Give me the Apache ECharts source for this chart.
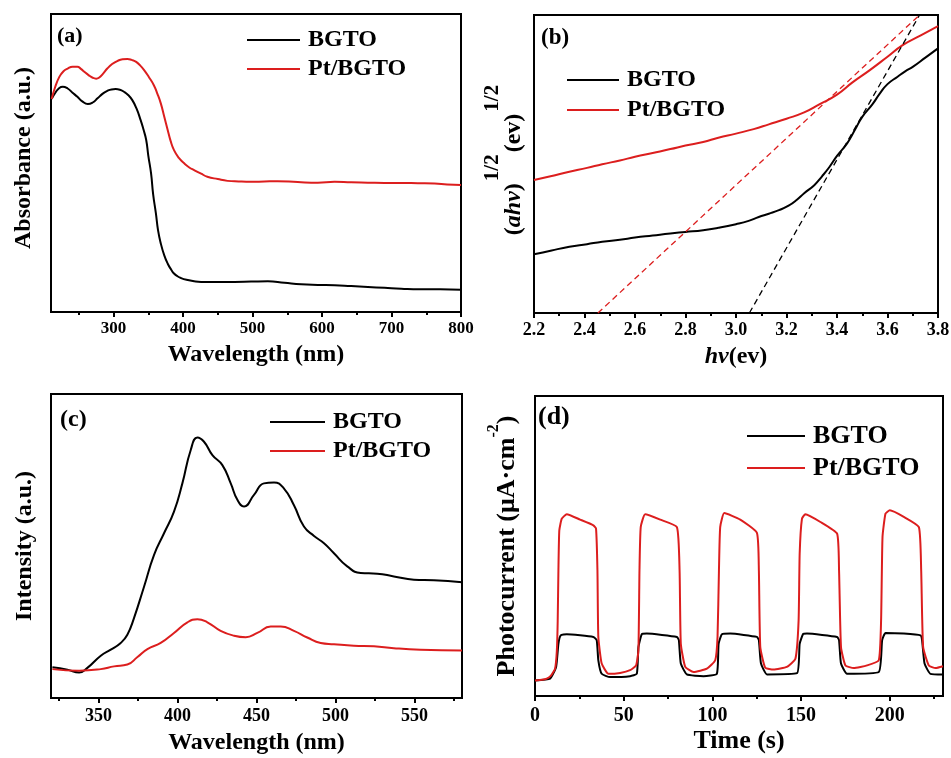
<!DOCTYPE html>
<html>
<head>
<meta charset="utf-8">
<script src="https://cdn.jsdelivr.net/npm/echarts@6/dist/echarts.min.js"></script>
<style>
  html, body { margin: 0; padding: 0; background: #fff; }
  #chart { width: 951px; height: 758px; }
</style>
</head>
<body>
<div id="chart"></div>
<script>
// (a) UV-vis absorbance, [wavelength nm, a.u.]
const absBGTO = [[211,71.5],[216,73.5],[222,75.2],[227,75.6],[234,75.0],[241,73.6],[248,72.2],[255,70.7],[263,69.8],[270,70.3],[277,71.7],[284,73.2],[291,74.2],[297,74.7],[303,74.8],[309,74.6],[315,73.9],[321,72.8],[327,71.1],[333,68.3],[339,64.4],[343,61.3],[347,57.7],[350,52.5],[354,46.5],[357,39.5],[361,33.0],[364,27.5],[368,23.0],[373,19.0],[378,16.2],[383,14.2],[387,12.9],[392,12.0],[397,11.4],[405,10.8],[416,10.3],[426,10.1],[450,10.1],[474,10.1],[498,10.2],[522,10.3],[546,9.8],[570,9.3],[594,9.1],[618,9.0],[642,8.7],[666,8.4],[690,8.1],[714,7.8],[740,7.6],[770,7.6],[800,7.5]];
const absPt = [[211,71.5],[216,75.5],[222,78.9],[228,80.8],[234,81.7],[241,82.3],[248,82.3],[253,81.6],[258,80.6],[264,79.5],[270,78.6],[275,78.3],[279,78.6],[285,80.0],[291,81.7],[298,83.2],[306,84.3],[313,84.8],[320,84.9],[326,84.6],[332,84.0],[338,82.8],[344,81.2],[351,78.8],[358,76.1],[363,73.3],[368,70.0],[373,65.5],[378,61.0],[382,57.5],[387,54.3],[394,51.7],[402,49.8],[409,48.5],[416,47.6],[426,46.4],[435,45.4],[450,44.6],[464,44.0],[480,43.8],[498,43.7],[517,43.8],[536,43.9],[565,43.6],[594,43.4],[618,43.7],[642,43.5],[666,43.4],[690,43.3],[714,43.3],[738,43.2],[762,43.1],[780,42.8],[800,42.6]];
const absMajor = [300, 400, 500, 600, 700, 800];
const absMinor = [250, 350, 450, 550, 650, 750];

// (b) Tauc plot, [hv eV, (ahv)^1/2]
const taucBGTO = [[2.2,19.7],[2.27,21.0],[2.34,22.2],[2.41,23.1],[2.47,23.9],[2.54,24.6],[2.6,25.3],[2.67,26.0],[2.74,26.7],[2.8,27.2],[2.87,27.8],[2.93,28.6],[3.0,29.8],[3.05,30.9],[3.09,32.2],[3.13,33.3],[3.17,34.5],[3.21,36.1],[3.24,37.9],[3.27,40.2],[3.31,42.9],[3.34,45.8],[3.37,49.0],[3.40,52.7],[3.44,56.9],[3.47,61.3],[3.50,65.8],[3.54,70.0],[3.57,73.7],[3.60,76.8],[3.64,79.3],[3.67,81.1],[3.70,82.6],[3.75,85.7],[3.8,88.8]];
const taucPt = [[2.2,44.6],[2.27,46.0],[2.34,47.4],[2.41,48.7],[2.47,49.9],[2.54,51.2],[2.6,52.4],[2.67,53.7],[2.74,55.0],[2.8,56.2],[2.87,57.4],[2.93,58.8],[3.0,60.2],[3.07,61.7],[3.13,63.3],[3.2,65.2],[3.27,67.3],[3.33,70.0],[3.40,73.3],[3.46,77.3],[3.53,81.5],[3.6,86.0],[3.66,89.9],[3.73,93.1],[3.8,96.3]];
const taucFitBGTO = [[3.053,0],[3.727,100]];
const taucFitPt = [[2.453,0],[3.727,100]];
const taucMajor = [2.2, 2.4, 2.6, 2.8, 3.0, 3.2, 3.4, 3.6, 3.8];
const taucMinor = [2.3, 2.5, 2.7, 2.9, 3.1, 3.3, 3.5, 3.7];

// (c) PL spectra, [wavelength nm, a.u.]
const plBGTO = [[320.9,10.1],[330.4,9.3],[337.8,8.4],[343,9.9],[351.5,13.9],[357.8,15.9],[364.1,18.1],[368.3,20.8],[372.5,26.3],[378.9,36.7],[385.2,47.1],[391.5,54.2],[397.8,61.3],[403.1,70.6],[408.4,81.6],[412.6,85.7],[416.8,84.3],[422.1,79.9],[428.4,76.6],[433.7,70.6],[437.9,65.2],[442.1,63.0],[448.4,66.8],[454.7,70.6],[461.1,70.9],[467.4,68.9],[473.7,63.4],[480,56.4],[486.4,53.3],[492.7,50.9],[499,47.6],[507.4,43.3],[515.9,41.1],[526.4,40.9],[536.9,40.0],[549.6,38.9],[562.2,38.7],[580,38.1]];
const plPt = [[320.9,9.5],[337.8,9.0],[351.5,9.5],[359.9,10.4],[368.3,11.0],[374.7,13.5],[381,16.1],[389.4,18.1],[397.8,21.4],[406.3,24.9],[412.6,25.9],[418.9,24.9],[427.3,22.1],[435.8,20.5],[443.2,20.0],[450.5,21.4],[459,23.5],[465.3,23.5],[473.7,22.1],[482.1,19.9],[490.6,18.1],[499,17.7],[511.6,17.2],[524.3,17.0],[536.9,16.4],[553.8,15.9],[580,15.6]];
const plMajor = [350, 400, 450, 500, 550];
const plMinor = [325, 375, 425, 475, 525, 575];

// (d) transient photocurrent, [time s, a.u.]
const ptBGTO = [[0,5.2],[8.5,5.8],[11.9,9.7],[13.2,17.4],[14.5,20.2],[17.9,20.6],[32.9,19.7],[34.8,18.6],[35.7,11.9],[37.6,7.4],[42.3,6.3],[53.6,6.6],[57.4,7.4],[58.3,16.3],[60.2,20.6],[63,20.8],[80,19.7],[81.1,18.6],[82.2,10.8],[85.6,7.2],[95,6.6],[102.5,7.4],[103.5,17.4],[105.4,20.6],[110.1,20.8],[125.1,19.7],[126.2,18.6],[127.4,10.8],[130.8,7.2],[147.7,7.6],[149.2,17.4],[151.1,20.6],[153.3,20.8],[170.3,19.7],[171.4,18.6],[172.5,10.8],[175.9,7.4],[193.8,8.0],[195.7,18.6],[197.6,21],[207.9,20.8],[217.3,20.2],[218.2,18.6],[219.6,10.8],[222.9,7.4],[230,7.2]];
const ptPt = [[0,5.2],[4,5.4],[6.6,5.8],[9,6.8],[11.3,9.1],[12.3,15],[12.8,25],[13.2,41.9],[13.7,55.2],[15.1,59.1],[17.9,60.6],[25.4,58.8],[32.9,56.9],[34.4,55.8],[35.2,41.9],[35.7,19.7],[37.6,10.8],[41.4,7.4],[48,7.7],[53.6,8.6],[57,10.2],[58.3,15.2],[58.9,41.9],[59.6,56.3],[62.1,60.6],[70.6,58.8],[80,56.3],[81.5,41.9],[82.2,17.4],[84.7,9.7],[89.4,8.0],[96.9,9.1],[101.6,11.9],[102.9,19.7],[103.7,41.9],[104.4,56.3],[106.7,61],[115.7,58.8],[125.1,54.4],[126.2,41.9],[127,16.3],[129.8,9.4],[134.5,8.8],[142,9.7],[146.8,12.4],[148.6,25.2],[149.2,47.4],[150.5,59.1],[152.4,60.6],[160.9,58],[170.3,54.1],[171.4,41.9],[172.5,16.3],[175,10.2],[179.7,9.3],[187.2,10.2],[193.8,11.9],[195.1,25.2],[195.9,53],[197.6,60.8],[200,61.9],[207.9,59.7],[216.4,56.3],[217.7,41.9],[218.8,16.3],[222,10.2],[225.8,9.3],[230,9.9]];
const ptMajor = [0, 50, 100, 150, 200];
const ptMinor = [25, 75, 125, 175, 225];

const FONT = '"Liberation Serif", "Times New Roman", serif';
const RED = '#dc1e1e';

var chart = echarts.init(document.getElementById('chart'));

const txt = (size, extra) => Object.assign({ fontFamily: FONT, fontWeight: 'bold', fontSize: size, color: '#000' }, extra || {});

// main x axis (labels + major ticks) and a second one for the minor ticks
const xPair = (gi, min, max, major, minor, name, nameSize, gap, tickSize, margin, fmt, rich) => [
  {
    type: 'value', gridIndex: gi, min: min, max: max,
    name: name, nameLocation: 'middle', nameGap: gap,
    nameTextStyle: txt(nameSize, rich ? { rich: rich } : {}),
    axisLine: { lineStyle: { color: '#000', width: 2 } },
    axisTick: { length: 5, lineStyle: { width: 2 }, customValues: major },
    axisLabel: Object.assign({ margin: margin, customValues: major }, txt(tickSize), fmt ? { formatter: fmt } : {}),
    splitLine: { show: false },
  },
  {
    type: 'value', gridIndex: gi, min: min, max: max, position: 'bottom',
    axisLine: { show: false },
    axisTick: { length: 3, lineStyle: { width: 2, color: '#000' }, customValues: minor },
    axisLabel: { show: false },
    splitLine: { show: false },
  },
];

const yAx = (gi, name, size, gap, rich, pad) => ({
  type: 'value', gridIndex: gi, min: 0, max: 100,
  name: name, nameLocation: 'middle', nameGap: gap, nameRotate: 90,
  nameTextStyle: txt(size, Object.assign(rich ? { rich: rich } : { lineHeight: size + 4 }, pad ? { padding: pad } : {})),
  axisLine: { lineStyle: { color: '#000', width: 2 } },
  axisTick: { show: false },
  axisLabel: { show: false },
  splitLine: { show: false },
});

const line = (name, xi, yi, data, color, extra) => Object.assign({
  name: name, type: 'line', xAxisIndex: xi, yAxisIndex: yi, data: data,
  showSymbol: false, symbol: 'none', color: color, smooth: 0.5,
  lineStyle: { color: color, width: 2 }, silent: true,
}, extra || {});

const legend = (left, top, w, gap, size) => ({
  data: ['BGTO', 'Pt/BGTO'], orient: 'vertical', left: left, top: top, padding: 0,
  icon: 'rect', itemWidth: w, itemHeight: 2, itemGap: gap,
  textStyle: txt(size, { lineHeight: size, padding: [0, 0, 0, 3] }),
  selectedMode: false,
});

const richSerif = (size, extra) => Object.assign({ fontFamily: FONT, fontWeight: 'bold', fontSize: size, color: '#000' }, extra);

const panelLabel = (text, x, y, size) => ({
  type: 'text', x: x, y: y, style: { text: text, font: 'bold ' + size + 'px ' + FONT, fill: '#000' },
});

var option = {
  animation: false,
  backgroundColor: '#fff',
  grid: [
    { left: 51, top: 14, width: 410, height: 298, show: true, borderColor: '#000', borderWidth: 2, outerBoundsMode: 'none' },
    { left: 534, top: 15, width: 404, height: 298, show: true, borderColor: '#000', borderWidth: 2, outerBoundsMode: 'none' },
    { left: 51, top: 394, width: 411, height: 304, show: true, borderColor: '#000', borderWidth: 2, outerBoundsMode: 'none' },
    { left: 535, top: 396, width: 408, height: 300, show: true, borderColor: '#000', borderWidth: 2, outerBoundsMode: 'none' },
  ],
  xAxis: [
    ...xPair(0, 210, 800, absMajor, absMinor, 'Wavelength (nm)', 24, 31, 17, 8),
    ...xPair(1, 2.2, 3.8, taucMajor, taucMinor, '{i|hv}{p|(ev)}', 24, 32, 18, 8, v => v.toFixed(1), {
      i: richSerif(24, { fontStyle: 'italic' }), p: richSerif(24, {}),
    }),
    ...xPair(2, 320, 580, plMajor, plMinor, 'Wavelength (nm)', 24, 33, 18, 9),
    ...xPair(3, 0, 230, ptMajor, ptMinor, 'Time (s)', 26, 32, 20, 10),
  ],
  yAxis: [
    yAx(0, 'Absorbance (a.u.)', 24, 13, null, [0, 0, 0, 10]),
    yAx(1, '{p|(}{i|ahv}{p|)}{s|1/2}{p|(ev)}{s|1/2}', 24, 8, {
      p: richSerif(24, { lineHeight: 26, verticalAlign: 'bottom' }),
      i: richSerif(24, { lineHeight: 26, verticalAlign: 'bottom', fontStyle: 'italic' }),
      s: richSerif(21, { lineHeight: 44, verticalAlign: 'top', padding: [0, 2, 0, 2] }),
    }, [0, 0, 0, 10]),
    yAx(2, 'Intensity (a.u.)', 24, 12),
    yAx(3, '{m|Photocurrent (μA·cm}{s|-2}{m|)}', 26, 15, {
      m: richSerif(26, { lineHeight: 28, verticalAlign: 'bottom' }),
      s: richSerif(16, { lineHeight: 34, verticalAlign: 'top' }),
    }),
  ],
  legend: [
    legend(247, 28, 53, 5, 24),
    legend(567, 68, 52, 6, 24),
    legend(270, 410, 55, 5, 24),
    legend(747, 423, 58, 6, 26),
  ],
  graphic: [
    panelLabel('(a)', 57, 25, 22),
    panelLabel('(b)', 541, 27, 23),
    panelLabel('(c)', 60, 408, 24),
    panelLabel('(d)', 538, 404, 26),
  ],
  series: [
    line('BGTO', 0, 0, absBGTO, '#000'),
    line('Pt/BGTO', 0, 0, absPt, RED),
    line('BGTO', 2, 1, taucBGTO, '#000'),
    line('Pt/BGTO', 2, 1, taucPt, RED),
    line('BGTO fit', 2, 1, taucFitBGTO, '#000', { smooth: false, lineStyle: { color: '#000', width: 1.3, type: [6, 4] } }),
    line('Pt/BGTO fit', 2, 1, taucFitPt, RED, { smooth: false, lineStyle: { color: RED, width: 1.3, type: [6, 4] } }),
    line('BGTO', 4, 2, plBGTO, '#000'),
    line('Pt/BGTO', 4, 2, plPt, RED),
    line('BGTO', 6, 3, ptBGTO, '#000', { smooth: 0.15 }),
    line('Pt/BGTO', 6, 3, ptPt, RED, { smooth: 0.15 }),
  ],
};

option && chart.setOption(option);
</script>
</body>
</html>
